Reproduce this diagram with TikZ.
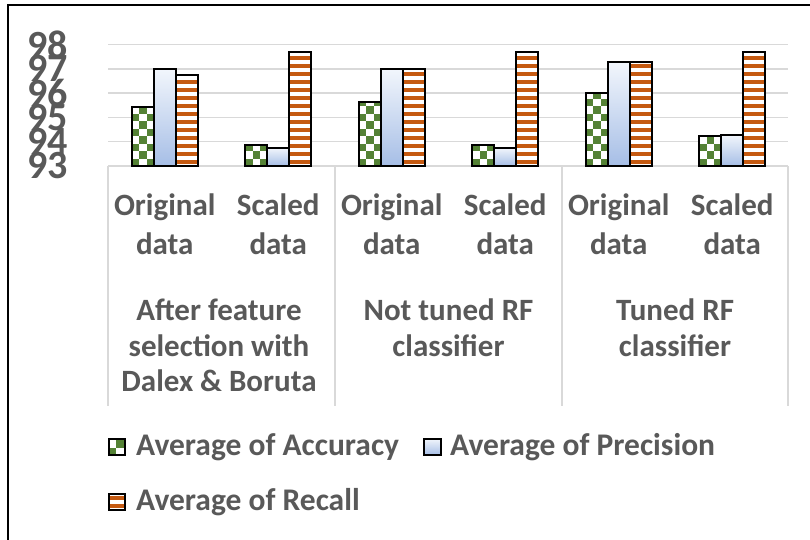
\documentclass[tikz,border=0pt]{standalone}
\usepackage{fontspec}
\setmainfont{Carlito}
\definecolor{axgray}{HTML}{595959}
\definecolor{gridgray}{HTML}{D9D9D9}
\definecolor{accgreen}{HTML}{548235}
\definecolor{recorange}{HTML}{C55A11}
\definecolor{prectop}{HTML}{F2F6FC}
\definecolor{precbot}{HTML}{A6BEE6}
\tikzset{
  barline/.style={draw=black, line width=2pt},
  gridln/.style={draw=gridgray, line width=1.5pt},
  ylab/.style={anchor=east, inner sep=0pt, text=axgray, font=\fontsize{40}{44}\selectfont\bfseries},
  catlab/.style={anchor=base, inner sep=0pt, text=axgray, font=\fontsize{31}{36}\selectfont\bfseries},
  leglab/.style={anchor=base west, inner sep=0pt, text=axgray, font=\fontsize{31.5}{36}\selectfont\bfseries},
}
\newcommand\accBox[4]{%
  \begin{scope}
    \clip (#1,#2) rectangle (#3,#4);
    \fill[white] (#1,#2) rectangle (#3,#4);
    \foreach \ix in {0,...,3}{\foreach \iy in {0,...,10}{%
      \pgfmathtruncatemacro\chk{mod(\ix+\iy,2)}%
      \ifnum\chk=0 \fill[accgreen] ({#1+\ix*7.5},{#4-\iy*7.5}) rectangle ++(7.5,-7.5);\fi}}
  \end{scope}
  \draw[barline] (#1,#2) rectangle (#3,#4);}
\newcommand\recBox[4]{%
  \begin{scope}
    \clip (#1,#2) rectangle (#3,#4);
    \fill[white] (#1,#2) rectangle (#3,#4);
    \foreach \iy in {0,...,15}{%
      \fill[recorange] (#1,{#4-\iy*8-2}) rectangle (#3,{#4-\iy*8-5.8});}
  \end{scope}
  \draw[barline] (#1,#2) rectangle (#3,#4);}
\newcommand\precBox[4]{%
  \draw[barline, top color=prectop, bottom color=precbot] (#1,#2) rectangle (#3,#4);}
\begin{document}
\begin{tikzpicture}[x=1pt, y=-1pt]
  \useasboundingbox (0,0) rectangle (810,539);
  \fill[white] (0,0) rectangle (810,539);
  % outer frame
  \draw[black, line width=2pt] (8,545) -- (8,5) -- (815,5);
  % gridlines
  \foreach \v in {94,...,98}{
    \pgfmathsetmacro\gy{166-(\v-93)*24.3}
    \draw[gridln] (108,\gy) -- (788,\gy);}
  \draw[gridln] (108,166) -- (788,166);
  \foreach \x in {108,335,562,788}{\draw[gridln] (\x,166) -- (\x,406);}
  % y labels
  \foreach \v in {98,97,96,95,94,93}{
    \pgfmathsetmacro\gy{166-(\v-93)*24.3}
    \node[ylab] (y\v) at (68,\gy) {\v};}
  % bars
  \foreach \c/\a/\p/\r in {164.75/95.43/97.0/96.73, 278.25/93.86/93.75/97.70,
      391.75/95.65/97.0/97.0, 505.25/93.86/93.75/97.70,
      618.75/96.02/97.27/97.27, 732.25/94.25/94.29/97.70}{
    \pgfmathsetmacro\ya{166-(\a-93)*24.3}
    \pgfmathsetmacro\yp{166-(\p-93)*24.3}
    \pgfmathsetmacro\yr{166-(\r-93)*24.3}
    \pgfmathsetmacro\xa{\c-33}
    \pgfmathsetmacro\xb{\c-11}
    \pgfmathsetmacro\xc{\c+11}
    \pgfmathsetmacro\xd{\c+33}
    \accBox{\xa}{\ya}{\xb}{166}
    \precBox{\xb}{\yp}{\xc}{166}
    \recBox{\xc}{\yr}{\xd}{166}
  }
  % category labels
  \foreach \c/\t [count=\i] in {164.75/Original, 278.25/Scaled, 391.75/Original,
      505.25/Scaled, 618.75/Original, 732.25/Scaled}{
    \node[catlab] (s\i) at (\c,215) {\t};
    \node[catlab] (d\i) at (\c,254) {data};}
  \node[catlab] (g1a) at (219,320) {After feature};
  \node[catlab] (g1b) at (219,356) {selection with};
  \node[catlab] (g1c) at (219,391) {Dalex \& Boruta};
  \node[catlab] (g2a) at (448.5,320) {Not tuned RF};
  \node[catlab] (g2b) at (448.5,356) {classifier};
  \node[catlab] (g3a) at (675,320) {Tuned RF};
  \node[catlab] (g3b) at (675,356) {classifier};
  % legend
  \accBox{108.5}{438.5}{125}{455}
  \precBox{424}{438.5}{440.5}{455}
  \recBox{108.5}{493.5}{125}{510}
  \node[leglab] (la) at (136,455) {Average of Accuracy};
  \node[leglab] (lp) at (450,455) {Average of Precision};
  \node[leglab] (lr) at (136,510) {Average of Recall};
\end{tikzpicture}
\end{document}
